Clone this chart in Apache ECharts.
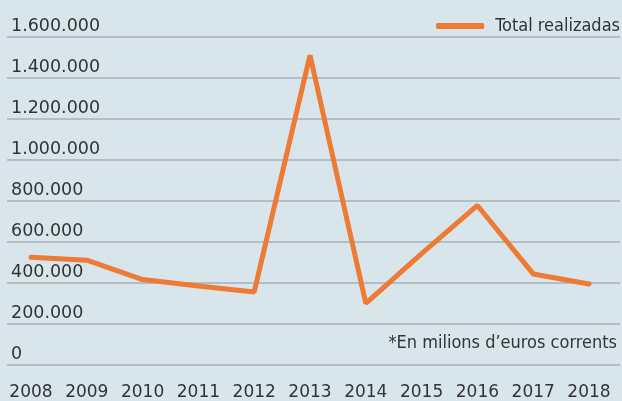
<!DOCTYPE html>
<html>
<head>
<meta charset="utf-8">
<script src="https://cdn.jsdelivr.net/npm/echarts@6/dist/echarts.min.js"></script>
<style>
  html, body { margin: 0; padding: 0; background: #d8e5eb; }
  #chart { width: 622px; height: 401px; }
</style>
</head>
<body>
<div id="chart"></div>
<script>
// data
var years = ['2008', '2009', '2010', '2011', '2012', '2013', '2014', '2015', '2016', '2017', '2018'];
var totalRealizadas = [512000, 498000, 402000, 370000, 341000, 1510000, 285000, 530000, 768000, 430000, 380000];
var serieName = 'Total realizadas';
var nota = '*En milions d\u2019euros corrents';

var txt = '#333333';
var gridColor = '#b2bec4';

function fmt(v) {
  return String(v).replace(/\B(?=(\d{3})+(?!\d))/g, '.');
}

var myChart = echarts.init(document.getElementById('chart'));

option = {
  backgroundColor: '#d8e5eb',
  animation: false,
  legend: {
    data: [serieName],
    right: -3,
    top: 12,
    icon: 'roundRect',
    itemWidth: 48,
    itemHeight: 6,
    textStyle: {
      color: txt,
      fontFamily: 'DejaVu Sans Condensed',
      fontSize: 18,
      padding: [0, 0, 0, 6]
    }
  },
  graphic: [
    {
      type: 'text',
      right: 5,
      top: 334,
      style: {
        text: nota,
        fill: txt,
        font: '18px "DejaVu Sans Condensed"'
      }
    }
  ],
  grid: [
    // background lines + y labels
    { left: 7, right: 2, top: 37, bottom: 36 },
    // the data
    { left: 31, right: 33, top: 37, bottom: 36 }
  ],
  xAxis: [
    { type: 'value', gridIndex: 0, show: false, min: 0, max: 1 },
    {
      type: 'category',
      gridIndex: 1,
      data: years,
      boundaryGap: false,
      axisLine: { show: false },
      axisTick: { show: false },
      splitLine: { show: false },
      axisLabel: {
        interval: 0,
        color: txt,
        fontFamily: 'DejaVu Sans',
        fontSize: 17,
        margin: 23
      }
    }
  ],
  yAxis: [
    {
      type: 'value',
      gridIndex: 0,
      min: 0,
      max: 1600000,
      interval: 200000,
      axisLine: { show: false },
      axisTick: { show: false },
      splitLine: { lineStyle: { color: gridColor, width: 2 } },
      axisLabel: {
        inside: true,
        margin: 4,
        align: 'left',
        verticalAlign: 'bottom',
        color: txt,
        fontFamily: 'DejaVu Sans',
        fontSize: 17.5,
        padding: [0, 0, 2, 0],
        formatter: fmt
      }
    },
    {
      type: 'value',
      gridIndex: 1,
      min: 0,
      max: 1600000,
      interval: 200000,
      show: false,
      splitLine: { show: false }
    }
  ],
  series: [
    {
      name: serieName,
      type: 'line',
      xAxisIndex: 1,
      yAxisIndex: 1,
      data: totalRealizadas,
      symbol: 'none',
      color: '#ed7a35',
      lineStyle: { color: '#ed7a35', width: 5, cap: 'round', join: 'bevel' }
    }
  ]
};

myChart.setOption(option, true);
</script>
</body>
</html>
